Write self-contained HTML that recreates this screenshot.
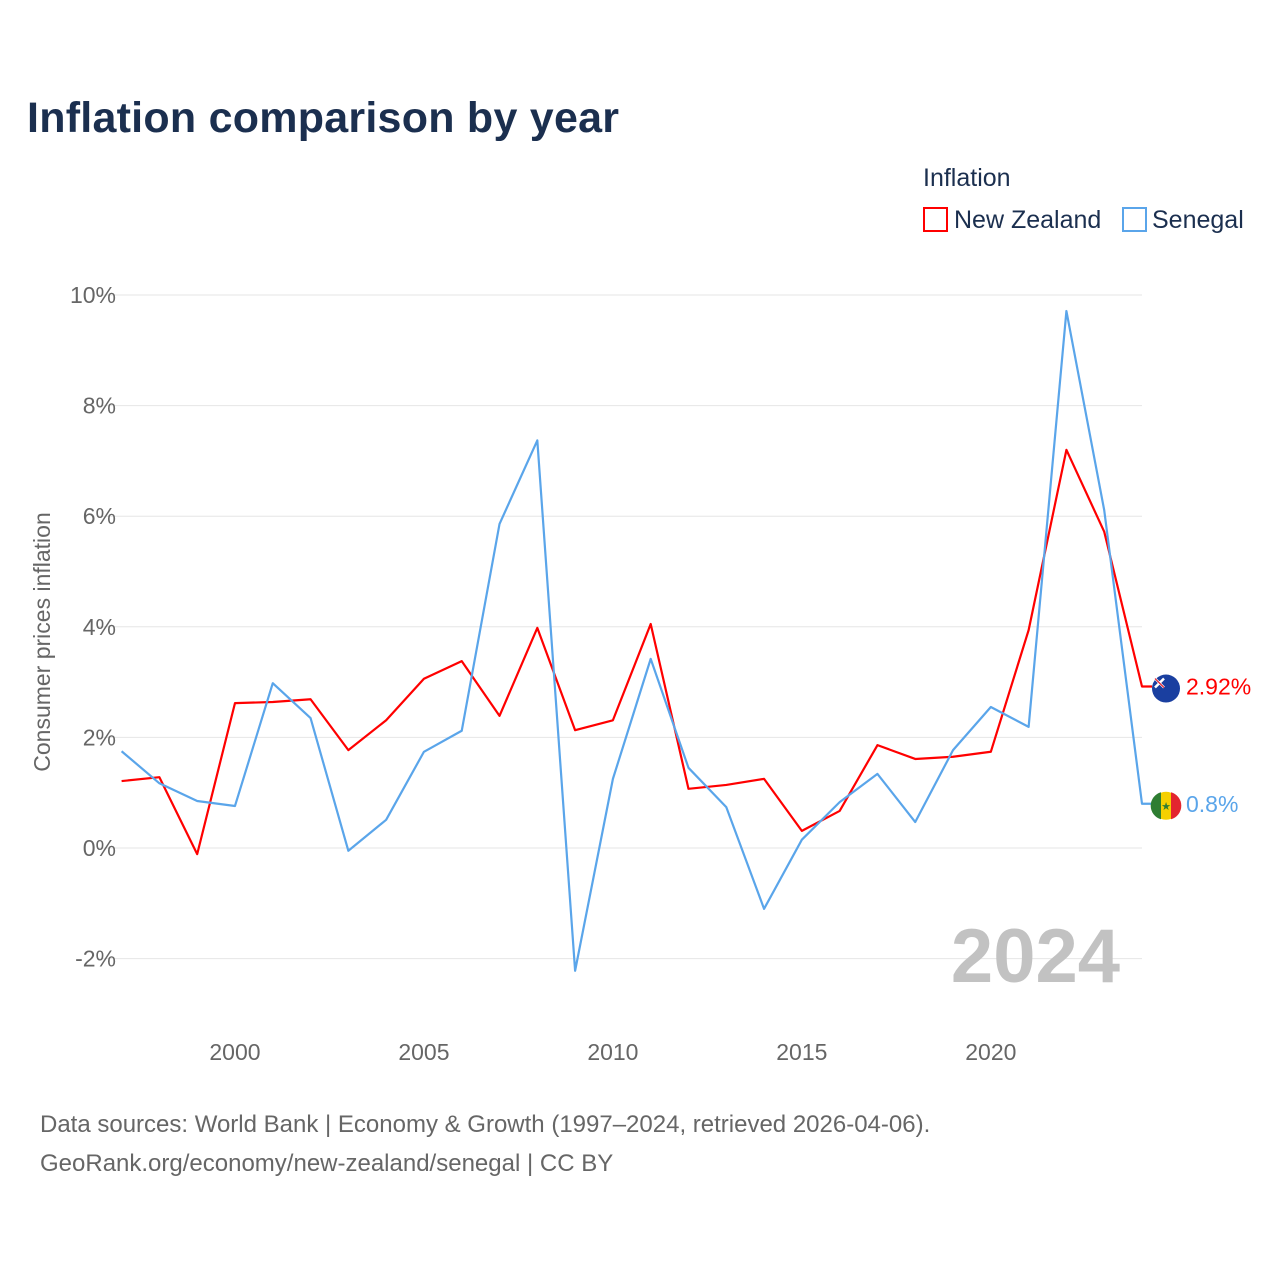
<!DOCTYPE html>
<html><head><meta charset="utf-8"><style>
body{margin:0;background:#fff;font-family:"Liberation Sans",sans-serif;}
svg text{font-family:"Liberation Sans",sans-serif;}
</style></head><body>
<svg id="c" width="1280" height="1280" xmlns="http://www.w3.org/2000/svg">
<defs>
<clipPath id="cf1"><circle cx="1166" cy="686" r="14"/></clipPath>
</defs>
<text x="27" y="132" font-size="43" font-weight="bold" fill="#1b2f4f" textLength="592">Inflation comparison by year</text>
<text x="923" y="186" font-size="25" fill="#1b2f4f">Inflation</text>
<g><rect x="924" y="208" width="23" height="23" fill="none" stroke="#ff0000" stroke-width="2"/><text x="954" y="228" font-size="25" fill="#1b2f4f">New Zealand</text></g>
<g><rect x="1123" y="208" width="23" height="23" fill="none" stroke="#5aa5ea" stroke-width="2"/><text x="1152" y="228" font-size="25" fill="#1b2f4f">Senegal</text></g>
<text transform="translate(50,642) rotate(-90)" text-anchor="middle" font-size="23" fill="#666">Consumer prices inflation</text>
<g id="grid"></g><g id="ylab"></g><g id="xlab"></g>
<text x="1120" y="982" text-anchor="end" font-size="76" font-weight="bold" fill="#c2c2c2">2024</text>
<g id="lines"></g>
<text x="40" y="1132" font-size="24" fill="#666">Data sources: World Bank | Economy &amp; Growth (1997–2024, retrieved 2026-04-06).</text>
<text x="40" y="1171" font-size="24" fill="#666">GeoRank.org/economy/new-zealand/senegal | CC BY</text>
</svg>
<script>
const years=[1997,1998,1999,2000,2001,2002,2003,2004,2005,2006,2007,2008,2009,2010,2011,2012,2013,2014,2015,2016,2017,2018,2019,2020,2021,2022,2023,2024];
const nz=[1.21,1.28,-0.11,2.62,2.64,2.69,1.77,2.31,3.06,3.38,2.39,3.98,2.13,2.31,4.05,1.07,1.14,1.25,0.31,0.67,1.86,1.61,1.65,1.74,3.94,7.2,5.72,2.92];
const sen=[1.75,1.17,0.85,0.76,2.98,2.35,-0.05,0.51,1.74,2.12,5.86,7.37,-2.22,1.25,3.42,1.45,0.74,-1.1,0.15,0.83,1.34,0.47,1.77,2.55,2.19,9.71,6.11,0.8];
const yTicks=[-2,0,2,4,6,8,10];
const xTicks=[2000,2005,2010,2015,2020];
const X=y=>121.6+(y-1997)*(1142-121.6)/27;
const Y=v=>848-v*55.3;
const NS="http://www.w3.org/2000/svg";
function mk(t,a,p){const e=document.createElementNS(NS,t);for(const k in a)e.setAttribute(k,a[k]);p.appendChild(e);return e;}
const g=document.getElementById('grid'),yl=document.getElementById('ylab'),xl=document.getElementById('xlab'),L=document.getElementById('lines');
yTicks.forEach(t=>{const l=mk('line',{x1:98,x2:1142,y1:Y(t),y2:Y(t),stroke:'#e6e6e6','stroke-width':1},g);


const s=mk('text',{x:116,y:Y(t)+8,'text-anchor':'end','font-size':23,fill:'#666'},yl);s.textContent=t+'%';

});
xTicks.forEach(t=>{const s=mk('text',{x:X(t),y:1060,'text-anchor':'middle','font-size':23,fill:'#666'},xl);s.textContent=t;

});
function series(vals,col,name,lab){
const last=vals[vals.length-1],ly=Y(last);
const d=vals.map((v,i)=>(i?'L':'M')+X(years[i])+','+Y(v)).join(' ')+' L1152,'+ly;
const p=mk('path',{d:d,fill:'none',stroke:col,'stroke-width':2.2,'stroke-linejoin':'round'},L);


const fg=mk('g',{},L);


const cy=ly+2;
if(name==='new-zealand'){
mk('circle',{cx:1166,cy:cy,r:14,fill:'#1a3fa0'},fg);
mk('path',{d:'M1155,'+(cy-10)+' l9,9 M1155,'+(cy-1)+' l9,-9',stroke:'#fff','stroke-width':2.5},fg);
mk('path',{d:'M1155,'+(cy-10)+' l9,9',stroke:'#e02030','stroke-width':1.2},fg);
}else{
mk('circle',{cx:1166,cy:cy,r:14,fill:'#f5d000'},fg);
mk('path',{d:'M1161,'+(cy-13.5)+' A14,14 0 0 0 1161,'+(cy+13.5)+' Z',fill:'#2e7d32'},fg);
mk('path',{d:'M1171,'+(cy-13.5)+' A14,14 0 0 1 1171,'+(cy+13.5)+' Z',fill:'#e3262f'},fg);
const st=mk('text',{x:1166,y:cy+4,'text-anchor':'middle','font-size':11,fill:'#2e7d32'},fg);st.textContent='★';
}
const t=mk('text',{x:1186,y:ly+8,'font-size':23,fill:col},L);t.textContent=lab;

}
series(nz,'#ff0000','new-zealand','2.92%');
series(sen,'#5aa5ea','senegal','0.8%');
</script>
</body></html>
